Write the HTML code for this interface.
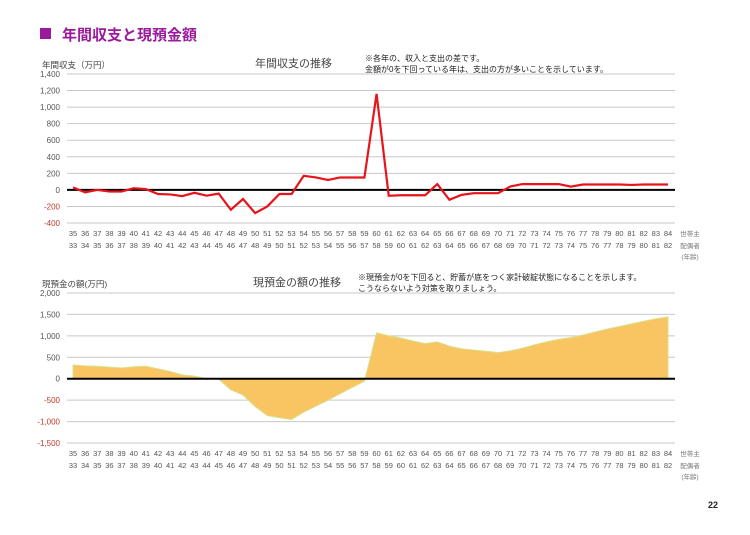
<!DOCTYPE html>
<html><head><meta charset="utf-8">
<style>
body{margin:0;width:750px;height:530px;background:#fff;font-family:"Liberation Sans","Noto Sans CJK JP",sans-serif;overflow:hidden}
svg text{font-family:"Liberation Sans","Noto Sans CJK JP",sans-serif}
</style></head>
<body>
<svg id="s" width="750" height="530">
<rect x="40" y="28" width="11" height="11" fill="#9b1a9b"/>
<text x="62" y="40" font-size="15" font-weight="bold" fill="#9b1a9b">年間収支と現預金額</text>
<text x="42" y="68" font-size="8.5" fill="#444">年間収支（万円）</text>
<text x="255" y="67" font-size="11" fill="#444">年間収支の推移</text>
<text x="365" y="61" font-size="8" fill="#222">※各年の、収入と支出の差です。</text>
<text x="365" y="72" font-size="8" fill="#222">金額が0を下回っている年は、支出の方が多いことを示しています。</text>
<text x="42" y="287" font-size="8.5" fill="#444">現預金の額(万円)</text>
<text x="253" y="286" font-size="11" fill="#444">現預金の額の推移</text>
<text x="358" y="280" font-size="8" fill="#222">※現預金が0を下回ると、貯蓄が底をつく家計破綻状態になることを示します。</text>
<text x="358" y="291" font-size="8" fill="#222">こうならないよう対策を取りましょう。</text>
<text x="708" y="508" font-size="9" font-weight="bold" fill="#222">22</text>
<g id="g"></g>
</svg>
<script>
const ages1 = [];for(let a=35;a<=84;a++)ages1.push(a);
const ages2 = ages1.map(a=>a-2);
const annualBalance = [30,-30,0,-20,-20,20,10,-50,-55,-75,-35,-70,-45,-240,-110,-280,-200,-50,-50,170,150,120,150,150,150,1160,-70,-65,-65,-65,70,-120,-60,-40,-40,-40,40,70,70,70,70,40,65,65,65,65,60,65,65,65];
const cashBalance = [320,300,290,270,250,280,290,230,170,90,60,0,-10,-260,-380,-650,-860,-910,-950,-780,-640,-500,-350,-200,-60,1070,1000,950,880,820,860,760,700,670,640,610,650,710,790,860,920,960,1020,1090,1160,1220,1280,1340,1400,1440];
const topTicks = [-400,-200,0,200,400,600,800,1000,1200,1400];
const botTicks = [-1500,-1000,-500,0,500,1000,1500,2000];
const NS="http://www.w3.org/2000/svg", G=document.getElementById('g');
function mk(t,a,p){const e=document.createElementNS(NS,t);for(const k in a)e.setAttribute(k,a[k]);(p||G).appendChild(e);return e;}
const x0=73, x1=668, xl=67, xr=675;
const xs=i=>x0+(x1-x0)*i/(ages1.length-1);
function chart(ticks,vals,yTop,yBot,kind,pre){
  const mn=ticks[0],mx=ticks[ticks.length-1];
  const ys=v=>yBot-(v-mn)/(mx-mn)*(yBot-yTop);
  ticks.forEach(t=>{
    const l=mk('line',{x1:xl,x2:xr,y1:ys(t),y2:ys(t),stroke:'#c8c8c8','stroke-width':1});
    
    
    const tx=mk('text',{x:60,y:ys(t)+3,'font-size':8,'text-anchor':'end',fill:t<0?'#c0392b':'#555'});
    tx.textContent=t.toLocaleString('en-US');
    
    
  });
  if(kind==='area'){
    let d='M'+xs(0)+','+ys(0);
    vals.forEach((v,i)=>d+=' L'+xs(i)+','+ys(v));
    d+=' L'+xs(vals.length-1)+','+ys(0)+' Z';
    const p=mk('path',{d:d,fill:'#f8c562',stroke:'#d9e08a','stroke-width':1});
    
    
  }
  const z=mk('line',{x1:xl,x2:xr,y1:ys(0),y2:ys(0),stroke:'#000','stroke-width':2});
  
  
  if(kind==='line'){
    const p=mk('polyline',{points:vals.map((v,i)=>xs(i)+','+ys(v)).join(' '),fill:'none',stroke:'#e8141c','stroke-width':2.2});
    
    
  }
  const ly=yBot+13;
  ages1.forEach((a,i)=>{
    const t=mk('text',{x:xs(i),y:ly,'font-size':7.5,'text-anchor':'middle',fill:'#555'});t.textContent=a;
    
    
    const t2=mk('text',{x:xs(i),y:ly+12,'font-size':7.5,'text-anchor':'middle',fill:'#555'});t2.textContent=ages2[i];
    
    
  });
  [['世帯主',0],['配偶者',12],['(年齢)',23]].forEach(([s,dy])=>{
    const t=mk('text',{x:690,y:ly+dy,'font-size':6.5,'text-anchor':'middle',fill:'#777'});t.textContent=s;
    
    
  });
}
chart(topTicks,annualBalance,74,223,'line','top-');
chart(botTicks,cashBalance,293,443,'area','bottom-');
</script>
</body></html>
